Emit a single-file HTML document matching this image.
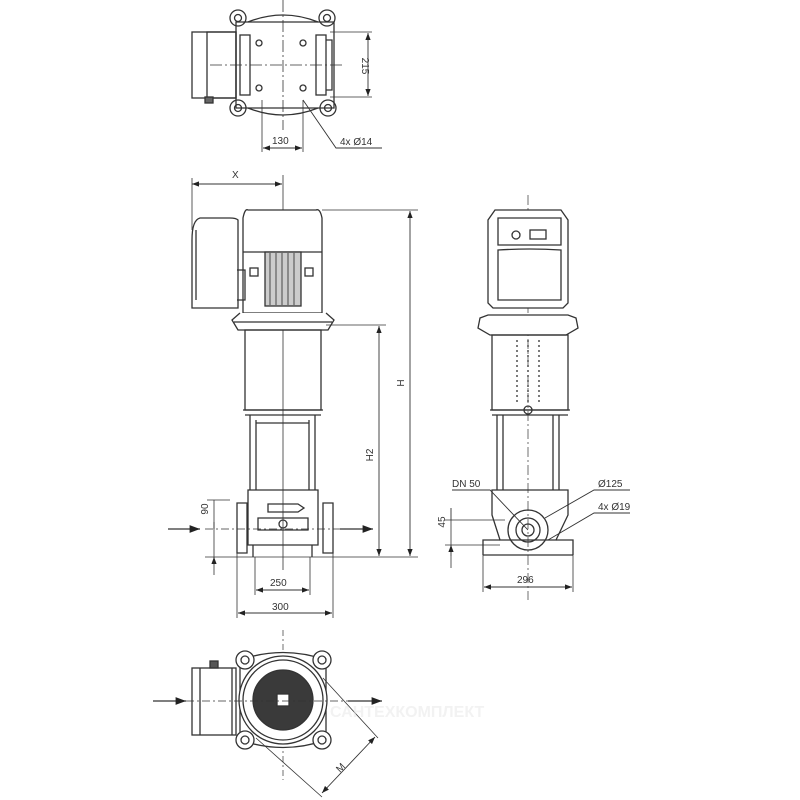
<!DOCTYPE html>
<html><head><meta charset="utf-8"><style>body{margin:0;background:#fff}svg{display:block}text{font-family:"Liberation Sans",sans-serif;fill:#333}</style></head><body>
<svg width="800" height="800" viewBox="0 0 800 800" xmlns="http://www.w3.org/2000/svg">
<defs><marker id="a" markerWidth="8" markerHeight="6" refX="8" refY="3" orient="auto-start-reverse"><path d="M0,0 L8,3 L0,6z" fill="#222"/></marker></defs>
<g stroke="#333" stroke-width="1.3" fill="none">
<!-- TOP VIEW -->
<rect x="192" y="32" width="44" height="66" fill="#fff"/>
<rect x="207" y="32" width="29" height="66"/>
<rect x="205" y="97" width="8" height="6" fill="#666"/>
<path d="M236,22 h98 v86 h-98z"/>
<path d="M248,22 Q283,8 318,22 M248,108 Q283,122 318,108"/>
<circle cx="238" cy="18" r="8"/><circle cx="238" cy="18" r="3.5"/>
<circle cx="327" cy="18" r="8"/><circle cx="327" cy="18" r="3.5"/>
<circle cx="238" cy="108" r="8"/><circle cx="238" cy="108" r="3.5"/>
<circle cx="328" cy="108" r="8"/><circle cx="328" cy="108" r="3.5"/>
<rect x="240" y="35" width="10" height="60"/><rect x="316" y="35" width="10" height="60"/>
<circle cx="259" cy="43" r="3"/><circle cx="303" cy="43" r="3"/><circle cx="259" cy="88" r="3"/><circle cx="303" cy="88" r="3"/>
<path d="M326,40 h6 v50 h-6" />
<path d="M283,0 V130 M210,65 H345" stroke-dasharray="12,3,2,3" stroke-width="0.8"/>
<path d="M330,32 H372 M330,97 H372 M262,100 V152 M303,100 V152" stroke-width="0.8"/>
<path d="M368,33 V96" marker-start="url(#a)" marker-end="url(#a)" stroke-width="0.9"/>
<path d="M263,148 H302" marker-start="url(#a)" marker-end="url(#a)" stroke-width="0.9"/>
<path d="M303,100 L336,148 H382" stroke-width="0.9"/>
<!-- FRONT VIEW -->
<path d="M192,184 H282" marker-start="url(#a)" marker-end="url(#a)" stroke-width="0.9"/>
<path d="M192,178 V230 M283,175 V570" stroke-width="0.8"/>
<path d="M248,210 Q245,208 243,218 V313 H322 V218 Q320,208 316,210z" fill="#fff"/>
<path d="M243,252 H322"/>
<rect x="265" y="252" width="36" height="54" fill="#ccc"/>
<path d="M270,252V306M276,252V306M282,252V306M288,252V306M294,252V306" stroke="#666"/>
<rect x="250" y="268" width="8" height="8"/><rect x="305" y="268" width="8" height="8"/>
<path d="M200,218 Q192,220 192,240 V308 H238 V220 Q236,218 230,218z" fill="#fff"/>
<path d="M196,230 V300 M237,270 H245 V300 H237"/>
<path d="M240,313 L232,320 L238,330 H328 L334,320 L326,313" fill="#fff"/>
<path d="M234,322 H332"/>
<rect x="245" y="330" width="76" height="80"/>
<path d="M243,410 H323 M245,415 H321"/>
<path d="M250,415 V490 M256,420 V490 M315,415 V490 M309,420 V490 M256,423 H309"/>
<path d="M248,490 H318 V545 H248z"/>
<path d="M237,503 h10 v50 h-10z M323,503 h10 v50 h-10z"/>
<path d="M253,545 V557 M312,545 V557 M258,518 H308 V530 H258z"/>
<path d="M268,504 h30 l6,4 l-6,4 h-30z"/>
<circle cx="283" cy="524" r="4"/>
<path d="M168,529 H200" marker-end="url(#a)" stroke-width="1.3"/>
<path d="M340,529 H373" marker-end="url(#a)" stroke-width="1.3"/>
<path d="M205,529 H360" stroke-dasharray="8,3,2,3" stroke-width="0.7"/>
<path d="M322,210 H418 M326,325 H386 M205,557 H418 M207,500 H230" stroke-width="0.8"/>
<path d="M410,211 V556" marker-start="url(#a)" marker-end="url(#a)" stroke-width="0.9"/>
<path d="M379,326 V556" marker-start="url(#a)" marker-end="url(#a)" stroke-width="0.9"/>
<path d="M214,500 V575" stroke-width="0.8"/>
<path d="M214,522 V529 M214,564 V557" marker-end="url(#a)" stroke-width="0.9"/>
<path d="M255,557 V595 M310,557 V595 M237,553 V618 M333,553 V618" stroke-width="0.8"/>
<path d="M256,590 H309" marker-start="url(#a)" marker-end="url(#a)" stroke-width="0.9"/>
<path d="M238,613 H332" marker-start="url(#a)" marker-end="url(#a)" stroke-width="0.9"/>
<!-- SIDE VIEW -->
<path d="M528,195 V600" stroke-dasharray="10,3,2,3" stroke-width="0.7"/>
<path d="M495,210 L488,220 V303 L493,308 H563 L568,303 V220 L561,210z" fill="#fff"/>
<path d="M498,218 H561 V245 H498z M498,250 Q530,248 561,250 V300 H498z"/>
<circle cx="516" cy="235" r="4"/><rect x="530" y="230" width="16" height="9"/>
<path d="M480,318 L478,328 L490,335 H566 L578,328 L576,318 L568,315 H488z" fill="#fff"/>
<rect x="492" y="335" width="76" height="75"/>
<g stroke-dasharray="2,3"><path d="M517,340 V405 M528,340 V405 M539,340 V405"/></g>
<path d="M490,410 H570 M492,415 H568 M497,415 V490 M503,415 V490 M559,415 V490 M553,415 V490"/>
<circle cx="528" cy="410" r="4"/>
<path d="M492,490 H568 V515 L556,540 H500 L492,515z"/>
<path d="M483,555 V540 H500 M573,555 V540 H556 M483,555 H573"/>
<circle cx="528" cy="530" r="20"/><circle cx="528" cy="530" r="12"/><circle cx="528" cy="530" r="6"/>
<path d="M445,520 H505 M445,545 H500 M483,555 V592 M573,555 V592" stroke-width="0.8"/>
<path d="M451,508 V520 M451,556 V545" marker-end="url(#a)" stroke-width="0.9"/>
<path d="M451,520 V545 M451,556 V568" stroke-width="0.8"/>
<path d="M484,587 H572" marker-start="url(#a)" marker-end="url(#a)" stroke-width="0.9"/>
<path d="M452,490 H490 L528,530" stroke-width="0.9"/>
<path d="M545,518 L594,490 H630 M548,540 L594,513 H630" stroke-width="0.9"/>
<!-- BOTTOM VIEW -->
<path d="M283,630 V780" stroke-dasharray="6,3,2,3" stroke-width="0.7"/>
<rect x="192" y="668" width="44" height="67" fill="#fff"/>
<path d="M200,668 V735 M232,668 V735"/>
<rect x="210" y="661" width="8" height="7" fill="#555"/>
<path d="M240,660 Q283,645 326,660 V740 Q283,755 240,740z" fill="#fff"/>
<circle cx="283" cy="700" r="44" fill="#fff"/><circle cx="283" cy="700" r="40"/>
<circle cx="283" cy="700" r="30" fill="#3a3a3a"/>
<rect x="277" y="694" width="12" height="12" fill="#fff"/>
<circle cx="245" cy="660" r="9" fill="#fff"/><circle cx="245" cy="660" r="4"/>
<circle cx="322" cy="660" r="9" fill="#fff"/><circle cx="322" cy="660" r="4"/>
<circle cx="245" cy="740" r="9" fill="#fff"/><circle cx="245" cy="740" r="4"/>
<circle cx="322" cy="740" r="9" fill="#fff"/><circle cx="322" cy="740" r="4"/>
<path d="M153,701 H186" marker-end="url(#a)"/>
<path d="M348,701 H382" marker-end="url(#a)"/>
<path d="M186,701 H350" stroke-dasharray="8,3,2,3" stroke-width="0.7"/>
<path d="M323,678 L378,738 M256,738 L322,797" stroke-width="0.8"/>
<path d="M375,737 L322,793" marker-start="url(#a)" marker-end="url(#a)" stroke-width="0.9"/>
</g>
<g font-size="10">
<text x="232" y="178">X</text>
<text x="272" y="144">130</text>
<text x="340" y="145">4x Ø14</text>
<text transform="translate(362,66) rotate(90)" text-anchor="middle">215</text>
<text transform="translate(404,383) rotate(-90)" text-anchor="middle">H</text>
<text transform="translate(373,455) rotate(-90)" text-anchor="middle">H2</text>
<text transform="translate(208,509) rotate(-90)" text-anchor="middle">90</text>
<text x="270" y="586">250</text>
<text x="272" y="610">300</text>
<text x="452" y="487">DN 50</text>
<text x="598" y="487">Ø125</text>
<text x="598" y="510">4x Ø19</text>
<text transform="translate(445,522) rotate(-90)" text-anchor="middle">45</text>
<text x="517" y="583">296</text>
<text transform="translate(343,770) rotate(-45)" text-anchor="middle">M</text>
</g>
<g font-size="16" font-weight="bold" fill="#f0f0f0" opacity="0.5"><text x="330" y="717" style="fill:#e6e6e6">САНТЕХКОМПЛЕКТ</text></g>
</svg>
</body></html>
